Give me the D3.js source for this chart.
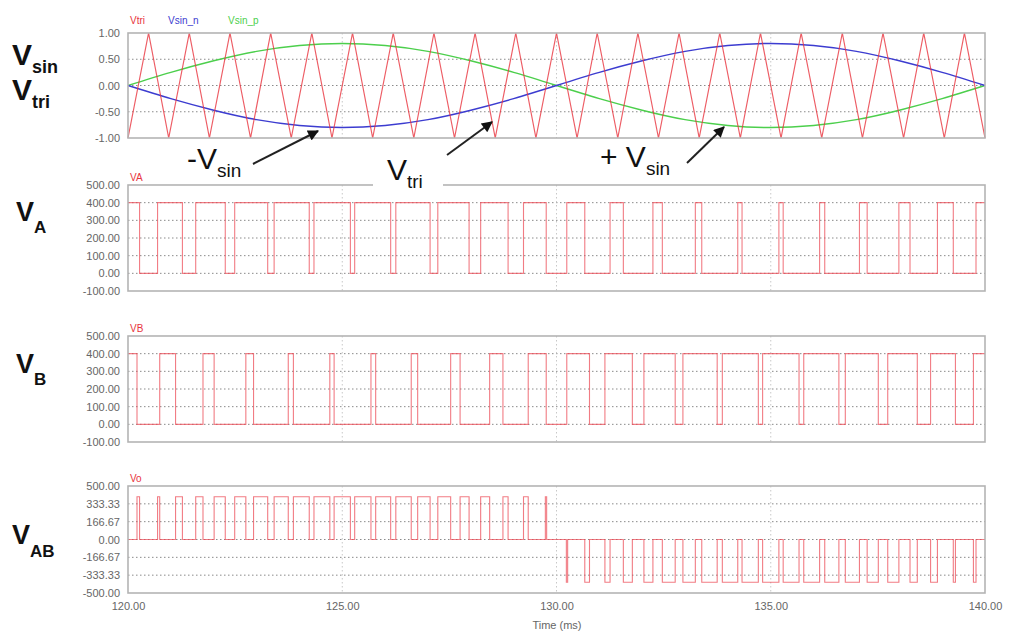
<!DOCTYPE html>
<html>
<head>
<meta charset="utf-8">
<script src="https://cdn.jsdelivr.net/npm/d3@7"></script>
<style>
  body { margin: 0; background: #fff; }
  svg { display: block; }
</style>
</head>
<body>
<svg id="chart"></svg>
<script>
// time axis (ms)
let timeTicks = [120, 125, 130, 135, 140];

// carrier triangle vertices
let triT = [120.00, 120.48, 120.95, 121.43, 121.90, 122.38, 122.86, 123.33, 123.81, 124.29,
  124.76, 125.24, 125.71, 126.19, 126.67, 127.14, 127.62, 128.10, 128.57, 129.05,
  129.52, 130.00, 130.48, 130.95, 131.43, 131.90, 132.38, 132.86, 133.33, 133.81,
  134.29, 134.76, 135.24, 135.71, 136.19, 136.67, 137.14, 137.62, 138.10, 138.57,
  139.05, 139.52, 140.00];
let triV = [-1, 1, -1, 1, -1, 1, -1, 1, -1, 1, -1, 1, -1, 1, -1, 1, -1, 1, -1, 1, -1, 1,
  -1, 1, -1, 1, -1, 1, -1, 1, -1, 1, -1, 1, -1, 1, -1, 1, -1, 1, -1, 1, -1];

// reference sines, read every 1 ms
let sinT = [120, 121, 122, 123, 124, 125, 126, 127, 128, 129, 130,
  131, 132, 133, 134, 135, 136, 137, 138, 139, 140];
let sinP = [0, 0.25, 0.47, 0.65, 0.76, 0.80, 0.76, 0.65, 0.47, 0.25, 0,
  -0.25, -0.47, -0.65, -0.76, -0.80, -0.76, -0.65, -0.47, -0.25, 0];
let sinN = [0, -0.25, -0.47, -0.65, -0.76, -0.80, -0.76, -0.65, -0.47, -0.25, 0,
  0.25, 0.47, 0.65, 0.76, 0.80, 0.76, 0.65, 0.47, 0.25, 0];

// VA: times where it drops to 0 and comes back to 400
let vaOff = [120.27, 121.27, 122.27, 123.26, 124.23, 125.19, 126.13, 127.05, 127.96, 128.87,
  129.76, 130.66, 131.56, 132.47, 133.39, 134.33, 135.29, 136.26, 137.25, 138.25, 139.26];
let vaOn = [120.69, 121.58, 122.49, 123.41, 124.34, 125.29, 126.25, 127.23, 128.23, 129.23,
  130.24, 131.25, 132.25, 133.24, 134.23, 135.19, 136.14, 137.07, 137.99, 138.89, 139.79];

// VB
let vbOff = [120.21, 121.11, 122.01, 122.93, 123.86, 124.81, 125.78, 126.76, 127.75, 128.75,
  129.76, 130.77, 131.77, 132.77, 133.75, 134.71, 135.66, 136.59, 137.51, 138.42, 139.31];
let vbOn = [120.74, 121.75, 122.75, 123.74, 124.71, 125.67, 126.61, 127.53, 128.44, 129.34,
  130.24, 131.13, 132.04, 132.95, 133.87, 134.81, 135.77, 136.74, 137.73, 138.73, 139.73];

// VAB pulses
let vabStart = [120.21, 120.69, 121.11, 121.58, 122.01, 122.49, 122.93, 123.41, 123.86, 124.34,
  124.81, 125.29, 125.78, 126.25, 126.76, 127.23, 127.75, 128.23, 128.75, 129.23,
  129.74, 130.23,
  130.66, 131.13, 131.56, 132.04, 132.47, 132.95, 133.39, 133.87, 134.33, 134.81,
  135.29, 135.77, 136.26, 136.74, 137.25, 137.73, 138.25, 138.73, 139.26, 139.73];
let vabEnd = [120.27, 120.74, 121.27, 121.75, 122.27, 122.75, 123.26, 123.74, 124.23, 124.71,
  125.19, 125.67, 126.13, 126.61, 127.05, 127.53, 127.96, 128.44, 128.87, 129.34,
  129.77, 130.26,
  130.77, 131.25, 131.77, 132.25, 132.77, 133.24, 133.75, 134.23, 134.71, 135.19,
  135.66, 136.14, 136.59, 137.07, 137.51, 137.99, 138.42, 138.89, 139.31, 139.79];
let vabLevel = [400, 400, 400, 400, 400, 400, 400, 400, 400, 400,
  400, 400, 400, 400, 400, 400, 400, 400, 400, 400,
  400, -400,
  -400, -400, -400, -400, -400, -400, -400, -400, -400, -400,
  -400, -400, -400, -400, -400, -400, -400, -400, -400, -400];

let sinTicks = [1, 0.5, 0, -0.5, -1];
let vTicks = [500, 400, 300, 200, 100, 0, -100];
let vabTicks = [500, 333.33, 166.67, 0, -166.67, -333.33, -500];

let width = 1009, height = 633;
let red = "#e8343e";

let svg = d3.select("#chart").attr("width", width).attr("height", height);
svg.append("rect").attr("width", width).attr("height", height).attr("fill", "#fff");

let x = d3.scaleLinear().domain([120, 140]).range([128, 985]);

let panels = [
  { name: "sin", dom: [-1, 1], top: 33, bot: 138, ticks: sinTicks },
  { name: "va", dom: [-100, 500], top: 185, bot: 291, ticks: vTicks },
  { name: "vb", dom: [-100, 500], top: 336, bot: 442, ticks: vTicks },
  { name: "vab", dom: [-500, 500], top: 486, bot: 593, ticks: vabTicks }
];

let defs = svg.append("defs");
defs.append("marker")
  .attr("id", "head")
  .attr("viewBox", "0 0 10 10")
  .attr("refX", 9).attr("refY", 5)
  .attr("markerUnits", "userSpaceOnUse")
  .attr("markerWidth", 13).attr("markerHeight", 11)
  .attr("orient", "auto")
  .append("path").attr("d", "M0,0 L10,5 L0,10 z").attr("fill", "#111");

panels.forEach(p => {
  p.y = d3.scaleLinear().domain(p.dom).range([p.bot, p.top]);
  let g = svg.append("g");

  // grid
  g.selectAll(".hg").data(p.ticks.slice(1, -1)).enter().append("line")
    .attr("x1", x(120)).attr("x2", x(140))
    .attr("y1", d => p.y(d)).attr("y2", d => p.y(d))
    .attr("stroke", "#8a8a8a").attr("stroke-width", 1)
    .attr("stroke-dasharray", "1.5,2.5");
  g.selectAll(".vg").data(timeTicks.slice(1, -1)).enter().append("line")
    .attr("x1", d => x(d)).attr("x2", d => x(d))
    .attr("y1", p.top).attr("y2", p.bot)
    .attr("stroke", "#c8c8c8").attr("stroke-width", 1)
    .attr("stroke-dasharray", "1.5,2.5");

  let ax = g.append("g")
    .attr("transform", "translate(" + x(120) + ",0)")
    .call(d3.axisLeft(p.y).tickValues(p.ticks).tickSize(0).tickPadding(8)
      .tickFormat(d => d.toFixed(2)));
  ax.select(".domain").remove();
  ax.selectAll("text").attr("fill", "#666").style("font-family", "Liberation Sans, Arial")
    .style("font-size", "11px");
});

function frame(p) {
  svg.append("rect")
    .attr("x", x(120)).attr("y", p.top)
    .attr("width", x(140) - x(120)).attr("height", p.bot - p.top)
    .attr("fill", "none").attr("stroke", "#b4b4b4").attr("stroke-width", 1.6);
}

// top panel curves
let sinPanel = panels[0];
let triLine = d3.line().x(d => x(d[0])).y(d => sinPanel.y(d[1]));
let sinLine = d3.line().x(d => x(d[0])).y(d => sinPanel.y(d[1])).curve(d3.curveNatural);

svg.append("path").datum(sinT.map((t, i) => [t, sinP[i]]))
  .attr("d", sinLine).attr("fill", "none").attr("stroke", "#4ccf4c").attr("stroke-width", 1.5);
svg.append("path").datum(sinT.map((t, i) => [t, sinN[i]]))
  .attr("d", sinLine).attr("fill", "none").attr("stroke", "#3c3cd0").attr("stroke-width", 1.5);
svg.append("path").datum(triT.map((t, i) => [t, triV[i]]))
  .attr("d", triLine).attr("fill", "none").attr("stroke", red).attr("stroke-width", 1.2)
  .attr("opacity", 0.8);

// step signals
function stepPts(offs, ons) {
  let pts = [[120, 400]];
  offs.forEach((t, i) => { pts.push([t, 0]); pts.push([ons[i], 400]); });
  pts.push([140, 400]);
  return pts;
}
function drawStep(p, pts) {
  let line = d3.line().x(d => x(d[0])).y(d => p.y(d[1])).curve(d3.curveStepAfter);
  svg.append("path").datum(pts).attr("d", line)
    .attr("fill", "none").attr("stroke", "#ec4a55").attr("stroke-width", 1.1).attr("opacity", 0.72);
}
drawStep(panels[1], stepPts(vaOff, vaOn));
drawStep(panels[2], stepPts(vbOff, vbOn));

let vabPts = [[120, 0]];
vabStart.forEach((t, i) => { vabPts.push([t, vabLevel[i]]); vabPts.push([vabEnd[i], 0]); });
vabPts.push([140, 0]);
drawStep(panels[3], vabPts);

panels.forEach(frame);

// bottom axis
let xa = svg.append("g").attr("transform", "translate(0," + panels[3].bot + ")")
  .call(d3.axisBottom(x).tickValues(timeTicks).tickSize(0).tickPadding(9)
    .tickFormat(d => d.toFixed(2)));
xa.select(".domain").remove();
xa.selectAll("text").attr("fill", "#666").style("font-family", "Liberation Sans, Arial")
  .style("font-size", "11px");
svg.append("text").attr("x", 557).attr("y", 629).attr("text-anchor", "middle")
  .attr("fill", "#666").style("font-family", "Liberation Sans, Arial").style("font-size", "11px")
  .text("Time (ms)");

// series names
let small = (tx, ty, col, s) => svg.append("text").attr("x", tx).attr("y", ty).attr("fill", col)
  .style("font-family", "Liberation Sans, Arial").style("font-size", "10px").text(s);
small(130, 24, red, "Vtri");
small(168, 24, "#3c3cd0", "Vsin_n");
small(228, 24, "#4ccf4c", "Vsin_p");
small(130, 181, red, "VA");
small(130, 332, red, "VB");
small(130, 482, red, "Vo");

// big labels with subscripts
function bigLabel(tx, ty, main, sub, size, subSize, dy) {
  let t = svg.append("text").attr("x", tx).attr("y", ty).attr("fill", "#111")
    .style("font-family", "Liberation Sans, Arial").style("font-weight", "bold")
    .style("font-size", size + "px");
  t.append("tspan").text(main);
  t.append("tspan").attr("dy", dy).style("font-size", subSize + "px").text(sub);
  return t;
}
bigLabel(12, 65, "V", "sin", 30, 18, 8);
bigLabel(12, 100, "V", "tri", 30, 18, 8);
bigLabel(16, 221, "V", "A", 27, 17, 12);
bigLabel(16, 373, "V", "B", 27, 17, 12);
bigLabel(12, 544, "V", "AB", 27, 17, 13);

// annotations
svg.append("rect").attr("x", 373).attr("y", 178).attr("width", 70).attr("height", 12).attr("fill", "#fff");
function annot(tx, ty, pre, sub) {
  let t = svg.append("text").attr("x", tx).attr("y", ty).attr("fill", "#111")
    .style("font-family", "Liberation Sans, Arial").style("font-size", "30px");
  t.append("tspan").text(pre);
  t.append("tspan").attr("dy", 8).style("font-size", "19px").text(sub);
}
annot(187, 169, "-V", "sin");
annot(387, 180, "V", "tri");
annot(600, 167, "+ V", "sin");

let arrows = [[[253, 164], [318, 131]], [[447, 155], [492, 122]], [[687, 163], [724, 127]]];
arrows.forEach(a => {
  svg.append("line").attr("x1", a[0][0]).attr("y1", a[0][1]).attr("x2", a[1][0]).attr("y2", a[1][1])
    .attr("stroke", "#222").attr("stroke-width", 2).attr("marker-end", "url(#head)");
});
</script>
</body>
</html>
